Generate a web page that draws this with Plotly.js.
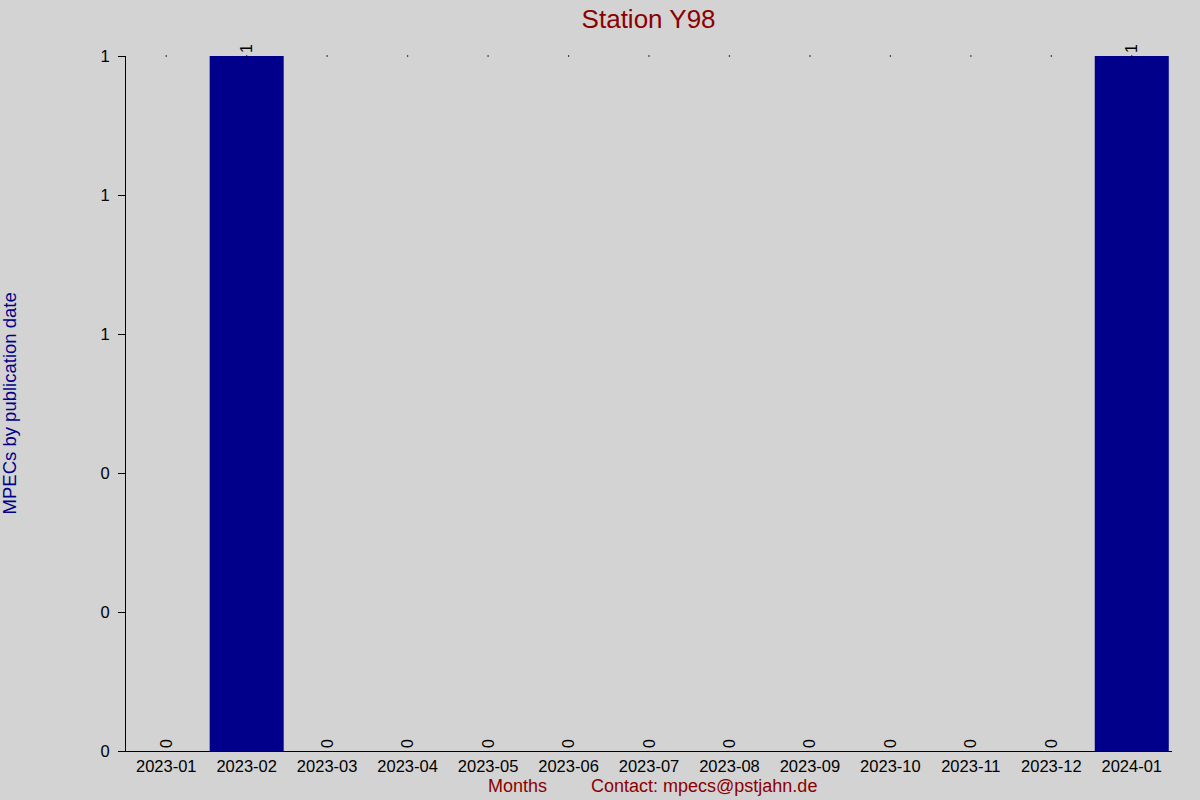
<!DOCTYPE html>
<html>
<head>
<meta charset="utf-8">
<script src="https://cdn.plot.ly/plotly-3.0.1.min.js"></script>
<style>
  html, body { margin: 0; padding: 0; background: #d3d3d3; }
  #chart { width: 1200px; height: 800px; }
</style>
</head>
<body>
<div id="chart"></div>
<script>
// monthly MPEC counts for the station
var months = ['2023-01', '2023-02', '2023-03', '2023-04', '2023-05', '2023-06', '2023-07',
              '2023-08', '2023-09', '2023-10', '2023-11', '2023-12', '2024-01'];
var counts = [0, 1, 0, 0, 0, 0, 0, 0, 0, 0, 0, 0, 1];
var yTicks = [0, 0.2, 0.4, 0.6, 0.8, 1];

var font = 'Liberation Sans, Arial, sans-serif';
var yMax = Math.max.apply(null, counts);

// tiny marks along the top of the plot, one per month
var topMarks = {
    type: 'scatter',
    mode: 'markers',
    x: months,
    y: months.map(function() { return yMax; }),
    marker: {color: '#000', size: 1.5, line: {width: 0}},
    cliponaxis: false,
    hoverinfo: 'skip'
};

var bars = {
    type: 'bar',
    x: months,
    y: counts,
    text: counts.map(String),
    textposition: 'outside',
    textangle: -90,
    cliponaxis: false,
    textfont: {family: font, size: 16, color: '#000'},
    marker: {color: '#00008b', line: {width: 0}},
    width: 0.92,
    hoverinfo: 'x+y'
};

var layout = {
    width: 1200,
    height: 800,
    paper_bgcolor: '#d3d3d3',
    plot_bgcolor: '#d3d3d3',
    margin: {l: 126, r: 28, t: 56, b: 49},
    showlegend: false,
    font: {family: font, size: 16, color: '#000'},
    title: {
        text: 'Station Y98',
        font: {family: font, size: 26, color: '#8b0000'},
        x: 0.5405, xanchor: 'center',
        y: 0.977, yanchor: 'middle'
    },
    xaxis: {
        type: 'category',
        range: [-0.5, months.length - 0.5],
        showgrid: false,
        zeroline: false,
        showline: true,
        linecolor: '#000',
        linewidth: 1,
        ticks: '',
        tickfont: {family: font, size: 16.5, color: '#000'}
    },
    yaxis: {
        range: [0, 1],
        tickvals: yTicks,
        tickformat: '.0f',
        showgrid: false,
        zeroline: false,
        showline: true,
        linecolor: '#000',
        linewidth: 1,
        ticks: 'outside',
        ticklen: 7,
        tickcolor: '#000',
        ticklabelstandoff: 5,
        tickfont: {family: font, size: 16.5, color: '#000'}
    },
    annotations: [
        {
            text: 'MPECs by publication date',
            xref: 'paper', yref: 'paper',
            x: -0.111, y: 0.5,
            xanchor: 'center', yanchor: 'middle',
            textangle: -90, showarrow: false,
            font: {family: font, size: 18.5, color: '#00008b'}
        },
        {
            text: 'Months',
            xref: 'paper', yref: 'paper',
            x: 0.374, y: -0.0504,
            xanchor: 'center', yanchor: 'middle',
            showarrow: false,
            font: {family: font, size: 18, color: '#8b0000'}
        },
        {
            text: 'Contact: mpecs@pstjahn.de',
            xref: 'paper', yref: 'paper',
            x: 0.5526, y: -0.0504,
            xanchor: 'center', yanchor: 'middle',
            showarrow: false,
            font: {family: font, size: 18, color: '#8b0000'}
        }
    ]
};

Plotly.newPlot('chart', [topMarks, bars], layout, {displayModeBar: false});
</script>
</body>
</html>
